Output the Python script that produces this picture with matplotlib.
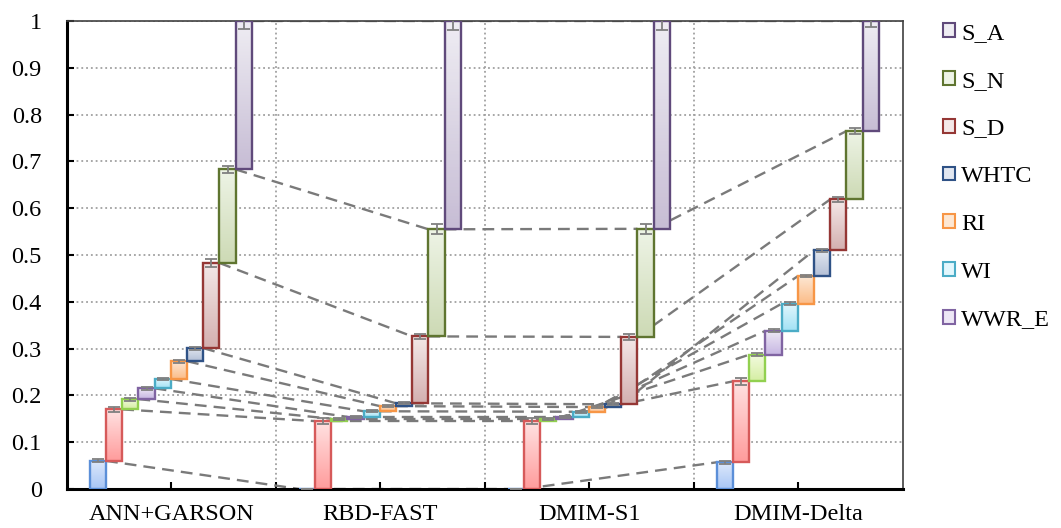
import numpy as np
import matplotlib
matplotlib.use("Agg")
import matplotlib.pyplot as plt
from matplotlib.patches import Patch
from matplotlib.colors import LinearSegmentedColormap

plt.rcParams['font.family'] = ['Liberation Serif', 'DejaVu Serif']
plt.rcParams['font.size'] = 17.5

methods = ['ANN+GARSON', 'RBD-FAST', 'DMIM-S1', 'DMIM-Delta']

# stacking order, bottom to top; only the upper seven appear in the legend
params = ['p1', 'p2', 'p3', 'WWR_E', 'WI', 'RI', 'WHTC', 'S_D', 'S_N', 'S_A']
legend_params = ['S_A', 'S_N', 'S_D', 'WHTC', 'RI', 'WI', 'WWR_E']

# sensitivity index of each parameter, per method (same order as params)
ann_garson = [0.060, 0.110, 0.022, 0.023, 0.020, 0.038, 0.028, 0.182, 0.200, 0.317]
rbd_fast   = [0.000, 0.145, 0.005, 0.004, 0.012, 0.011, 0.006, 0.143, 0.229, 0.445]
dmim_s1    = [0.000, 0.145, 0.005, 0.004, 0.011, 0.010, 0.006, 0.144, 0.231, 0.444]
dmim_delta = [0.057, 0.173, 0.057, 0.051, 0.058, 0.059, 0.055, 0.109, 0.146, 0.235]

# error (half-width) on the cumulative top of each bar
ann_err   = [0.003, 0.006, 0.003, 0.003, 0.003, 0.003, 0.003, 0.009, 0.008, 0.016]
rbd_err   = [0.000, 0.007, 0.002, 0.002, 0.002, 0.002, 0.002, 0.006, 0.011, 0.020]
s1_err    = [0.000, 0.007, 0.002, 0.002, 0.002, 0.002, 0.002, 0.006, 0.011, 0.020]
delta_err = [0.003, 0.008, 0.003, 0.003, 0.003, 0.003, 0.003, 0.005, 0.006, 0.013]

# edge colour, light (top) and dark (bottom) fill for each parameter
edge_colors = ['#5b8fd8', '#d65a5a', '#92d050', '#8064a2', '#4bacc6',
               '#f79646', '#2f5286', '#953735', '#5f7530', '#604a7b']
fill_top    = ['#dde8fb', '#ffe2e2', '#f3fbe0', '#ede7f5', '#e2f7fd',
               '#fde7d3', '#e2e7f0', '#f4e8e8', '#eef4e6', '#efedf3']
fill_bot    = ['#a8c6f5', '#ff9c9c', '#d5eea3', '#c6b6e2', '#a2e2f5',
               '#fbbc88', '#b4c0d6', '#d4b0b0', '#cddab5', '#c7bdd5']

values = np.array([ann_garson, rbd_fast, dmim_s1, dmim_delta])
errors = np.array([ann_err, rbd_err, s1_err, delta_err])
tops = np.cumsum(values, axis=1)
bottoms = tops - values

n_par = len(params)
bar_w = 0.0775
offset = 0.11

fig = plt.figure(figsize=(10.61, 5.28), dpi=100)
ax = fig.add_axes([0.063, 0.074, 0.788, 0.886])

def bar_left(g, i):
    return g + offset + i * bar_w

# dashed connectors between the same parameter in neighbouring methods
for g in range(len(methods) - 1):
    for i in range(n_par):
        ax.plot([bar_left(g, i) + bar_w, bar_left(g + 1, i)],
                [tops[g, i], tops[g + 1, i]],
                color='#7a7a7a', lw=1.7, ls=(0, (5, 3)), zorder=2)

for g in range(len(methods)):
    for i in range(n_par):
        x0 = bar_left(g, i)
        b = ax.bar(x0, values[g, i], bottom=bottoms[g, i], width=bar_w,
                   align='edge', facecolor='none', edgecolor=edge_colors[i],
                   lw=1.7, zorder=4)[0]
        if values[g, i] > 0:
            cmap = LinearSegmentedColormap.from_list(
                'grad', [fill_bot[i], fill_top[i]])
            grad = np.linspace(0, 1, 64).reshape(-1, 1)
            im = ax.imshow(grad, cmap=cmap, origin='lower', aspect='auto',
                           extent=(x0, x0 + bar_w, bottoms[g, i], tops[g, i]),
                           zorder=3)
            im.set_clip_path(b)
    centers = [bar_left(g, i) + bar_w / 2 for i in range(n_par)]
    ax.errorbar(centers, tops[g], yerr=errors[g], fmt='none',
                ecolor='#808080', elinewidth=1.3, capsize=4, capthick=1.3,
                zorder=5)

ax.set_xlim(0, len(methods))
ax.set_ylim(0, 1)
ax.set_yticks(np.arange(0, 1.01, 0.1))
ax.yaxis.set_major_formatter(plt.FormatStrFormatter('%g'))
ax.set_xticks(np.arange(len(methods)) + 0.5)
ax.set_xticklabels(methods)
ax.set_xticks(np.arange(1, len(methods)), minor=True)

ax.grid(axis='y', which='major', color='#a0a0a0', ls=':', lw=1.3)
ax.grid(axis='x', which='minor', color='#a0a0a0', ls=':', lw=1.3)
ax.set_axisbelow(True)

ax.tick_params(axis='both', which='both', direction='in', length=5, width=1.5)
ax.tick_params(axis='x', which='major', pad=11)
ax.tick_params(axis='y', pad=18)

for side in ['left', 'bottom']:
    ax.spines[side].set_linewidth(2.2)
    ax.spines[side].set_color('black')
for side in ['top', 'right']:
    ax.spines[side].set_linewidth(1.2)
    ax.spines[side].set_color('#404040')

handles = []
for name in legend_params:
    k = params.index(name)
    handles.append(Patch(facecolor=fill_top[k], edgecolor=edge_colors[k],
                         lw=1.5, label=name))
fig.legend(handles=handles, loc='upper left', bbox_to_anchor=(0.868, 0.998),
           frameon=False, handlelength=0.5, handleheight=0.5,
           handletextpad=0.25, labelspacing=1.1, fontsize=17.5)

fig.savefig('out.png', dpi=100)
